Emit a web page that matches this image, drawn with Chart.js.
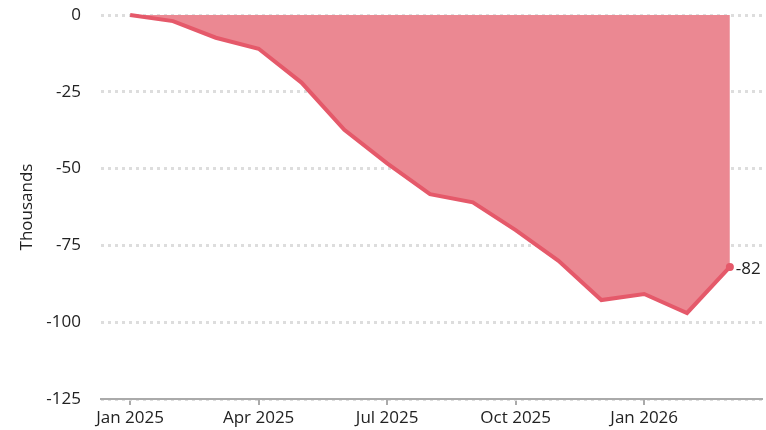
<!DOCTYPE html>
<html>
<head>
<meta charset="utf-8">
<script src="https://cdn.jsdelivr.net/npm/chart.js@4/dist/chart.umd.min.js"></script>
<style>
html,body{margin:0;padding:0;background:#fff;}
#wrap{width:766px;height:430px;}
</style>
</head>
<body>
<div id="wrap"><canvas id="c" width="766" height="430"></canvas></div>
<script>
const months = ["Jan 2025","Feb 2025","Mar 2025","Apr 2025","May 2025","Jun 2025","Jul 2025","Aug 2025","Sep 2025","Oct 2025","Nov 2025","Dec 2025","Jan 2026","Feb 2026","Mar 2026"];
const values = [0,-2,-7.4,-11,-22,-37.4,-48.3,-58.3,-61,-70,-80,-92.8,-90.8,-97,-82];
const xTickIdx = [0,3,6,9,12];
const yTicks = [0,-25,-50,-75,-100,-125];
const yTitle = "Thousands";
const endLabel = "-82";

const FONT = "'Open Sans', Lato, sans-serif";
const LINE = "#e5596a";
const FILL = "#eb8892";

const endLabelPlugin = {
  id: 'endLabel',
  afterDatasetsDraw(chart){
    const meta = chart.getDatasetMeta(0);
    const last = meta.data[meta.data.length-1];
    const ctx = chart.ctx;
    ctx.save();
    ctx.font = "17px " + FONT;
    ctx.fillStyle = "#222";
    ctx.textAlign = "left";
    ctx.textBaseline = "middle";
    ctx.fillText(endLabel, last.x + 6, last.y + 2);
    ctx.restore();
  }
};

new Chart(document.getElementById('c'), {
  type: 'line',
  data: {
    datasets: [{
      data: values.map((v,i)=>({x:i,y:v})),
      borderColor: LINE,
      backgroundColor: FILL,
      borderWidth: 4,
      fill: 'origin',
      tension: 0,
      pointRadius: values.map((v,i)=> i===values.length-1 ? 4 : 0),
      pointBackgroundColor: LINE,
      pointBorderWidth: 0,
      clip: false
    }]
  },
  options: {
    responsive: false,
    animation: false,
    devicePixelRatio: 1,
    layout: { padding: { top: 15, right: 4, left: 17, bottom: 0 } },
    plugins: { legend: { display: false }, tooltip: { enabled: false } },
    scales: {
      x: {
        type: 'linear',
        min: -0.68,
        max: 14.75,
        afterBuildTicks(scale){ scale.ticks = xTickIdx.map(v=>({value:v})); },
        afterFit(scale){ scale.paddingLeft = 0; scale.paddingRight = 0; scale.height = 31; },
        ticks: {
          callback: (v)=> months[v],
          color: "#222",
          font: { family: FONT, size: 17 },
          maxRotation: 0,
          padding: 3
        },
        grid: { drawOnChartArea: false, drawTicks: true, tickLength: 6, color: "#aaa", lineWidth: 2 },
        border: { display: true, color: "#aaa", width: 2 }
      },
      y: {
        min: -125,
        max: 0,
        afterBuildTicks(scale){ scale.ticks = yTicks.map(v=>({value:v})); },
        afterFit(scale){ scale.paddingTop = 0; scale.paddingBottom = 0; scale.width = 84; },
        ticks: {
          color: "#222",
          font: { family: FONT, size: 17 },
          padding: 20
        },
        title: { display: true, text: yTitle, color: "#222", font: { family: FONT, size: 17 }, padding: {top:0,bottom:9} },
        grid: { drawTicks: false, color: "#ddd", lineWidth: 3 },
        border: { display: false, dash: [3,4] }
      }
    }
  },
  plugins: [endLabelPlugin]
});
</script>
</body>
</html>
